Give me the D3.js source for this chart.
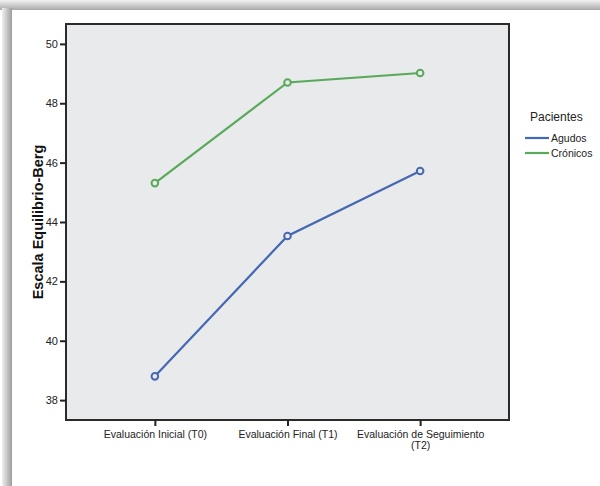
<!DOCTYPE html>
<html><head><meta charset="utf-8">
<script src="https://cdn.jsdelivr.net/npm/d3@7"></script>
<style>body{margin:0;background:#fff;}svg{display:block;font-family:"Liberation Sans",Arial,sans-serif;}</style>
</head><body><svg id="c" width="600" height="486"></svg>
<script>
const categories = ["Evaluación Inicial (T0)", "Evaluación Final (T1)", "Evaluación de Seguimiento (T2)"];
const agudos = [38.8, 43.53, 45.72];
const cronicos = [45.31, 48.7, 49.02];
const seriesNames = ["Agudos", "Crónicos"];
const seriesColors = ["#4468b3", "#58aa5a"];
const yTicks = [38, 40, 42, 44, 46, 48, 50];

const svg = d3.select("#c");
const defs = svg.append("defs");
const gt = defs.append("linearGradient").attr("id","gt").attr("x1",0).attr("y1",0).attr("x2",0).attr("y2",1);
gt.append("stop").attr("offset","0%").attr("stop-color","#f2f2f2");
gt.append("stop").attr("offset","100%").attr("stop-color","#a9a9a9");
const gl = defs.append("linearGradient").attr("id","gl").attr("x1",0).attr("y1",0).attr("x2",1).attr("y2",0);
gl.append("stop").attr("offset","0%").attr("stop-color","#f0f0f0");
gl.append("stop").attr("offset","100%").attr("stop-color","#9d9d9d");

svg.append("rect").attr("x",0).attr("y",0).attr("width",600).attr("height",10).attr("fill","url(#gt)");
svg.append("rect").attr("x",2).attr("y",8).attr("width",10).attr("height",478).attr("fill","url(#gl)");

const L = 66, R = 509, T = 24, B = 420;
const x = d3.scalePoint().domain(categories).range([L, R]).padding(0.67);
const y = d3.scaleLinear().domain([37.33, 50.67]).range([B, T]);

svg.append("rect").attr("x",L).attr("y",T).attr("width",R-L).attr("height",B-T)
  .attr("fill","#e9eaec").attr("stroke","#2b2b2b").attr("stroke-width",2);

// y axis
const ya = svg.append("g").attr("transform",`translate(${L},0)`)
  .call(d3.axisLeft(y).tickValues(yTicks).tickSize(6).tickPadding(2).tickFormat(d3.format("d")));
ya.select(".domain").remove();
ya.selectAll(".tick line").attr("stroke","#222").attr("stroke-width",2);
ya.selectAll(".tick text").attr("font-size",11).attr("fill","#222").attr("font-family","Liberation Sans, Arial, sans-serif");

// x axis
const xa = svg.append("g").attr("transform",`translate(0,${B})`)
  .call(d3.axisBottom(x).tickSize(6).tickPadding(5));
xa.select(".domain").remove();
xa.selectAll(".tick line").attr("stroke","#222").attr("stroke-width",2);
xa.selectAll(".tick text").attr("font-size",10.5).attr("fill","#222").attr("font-family","Liberation Sans, Arial, sans-serif")
  .each(function(d){
    const t = d3.select(this);
    if (d.length > 24) {
      const parts = d.split(" (");
      t.text(null);
      t.append("tspan").attr("x",0).attr("dy","0.71em").text(parts[0]);
      t.append("tspan").attr("x",0).attr("dy","1.0em").text("(" + parts[1]);
      t.attr("dy",null);
    }
  });

// y title
svg.append("text").attr("transform","translate(43,222) rotate(-90)")
  .attr("text-anchor","middle").attr("font-size",14.5).attr("font-weight","bold").attr("fill","#111")
  .text("Escala Equilibrio-Berg");

const data = [agudos, cronicos];
const line = d3.line().x((d,i)=>x(categories[i])).y(d=>y(d));
data.forEach((vals, s) => {
  svg.append("path").attr("d", line(vals)).attr("fill","none")
    .attr("stroke", seriesColors[s]).attr("stroke-width", 2.2);
  svg.selectAll(null).data(vals).enter().append("circle")
    .attr("cx",(d,i)=>x(categories[i])).attr("cy",d=>y(d)).attr("r",3.3)
    .attr("fill","#e9eaec").attr("stroke",seriesColors[s]).attr("stroke-width",2);
});

// legend
const lg = svg.append("g");
lg.append("text").attr("x",530).attr("y",121).attr("font-size",12).attr("fill","#222").text("Pacientes");
seriesNames.forEach((n,i)=>{
  const yy = 138 + i*15;
  lg.append("line").attr("x1",525).attr("x2",549).attr("y1",yy).attr("y2",yy)
    .attr("stroke",seriesColors[i]).attr("stroke-width",2.2);
  lg.append("text").attr("x",551).attr("y",yy+4).attr("font-size",10.5).attr("fill","#222").text(n);
});
</script></body></html>
